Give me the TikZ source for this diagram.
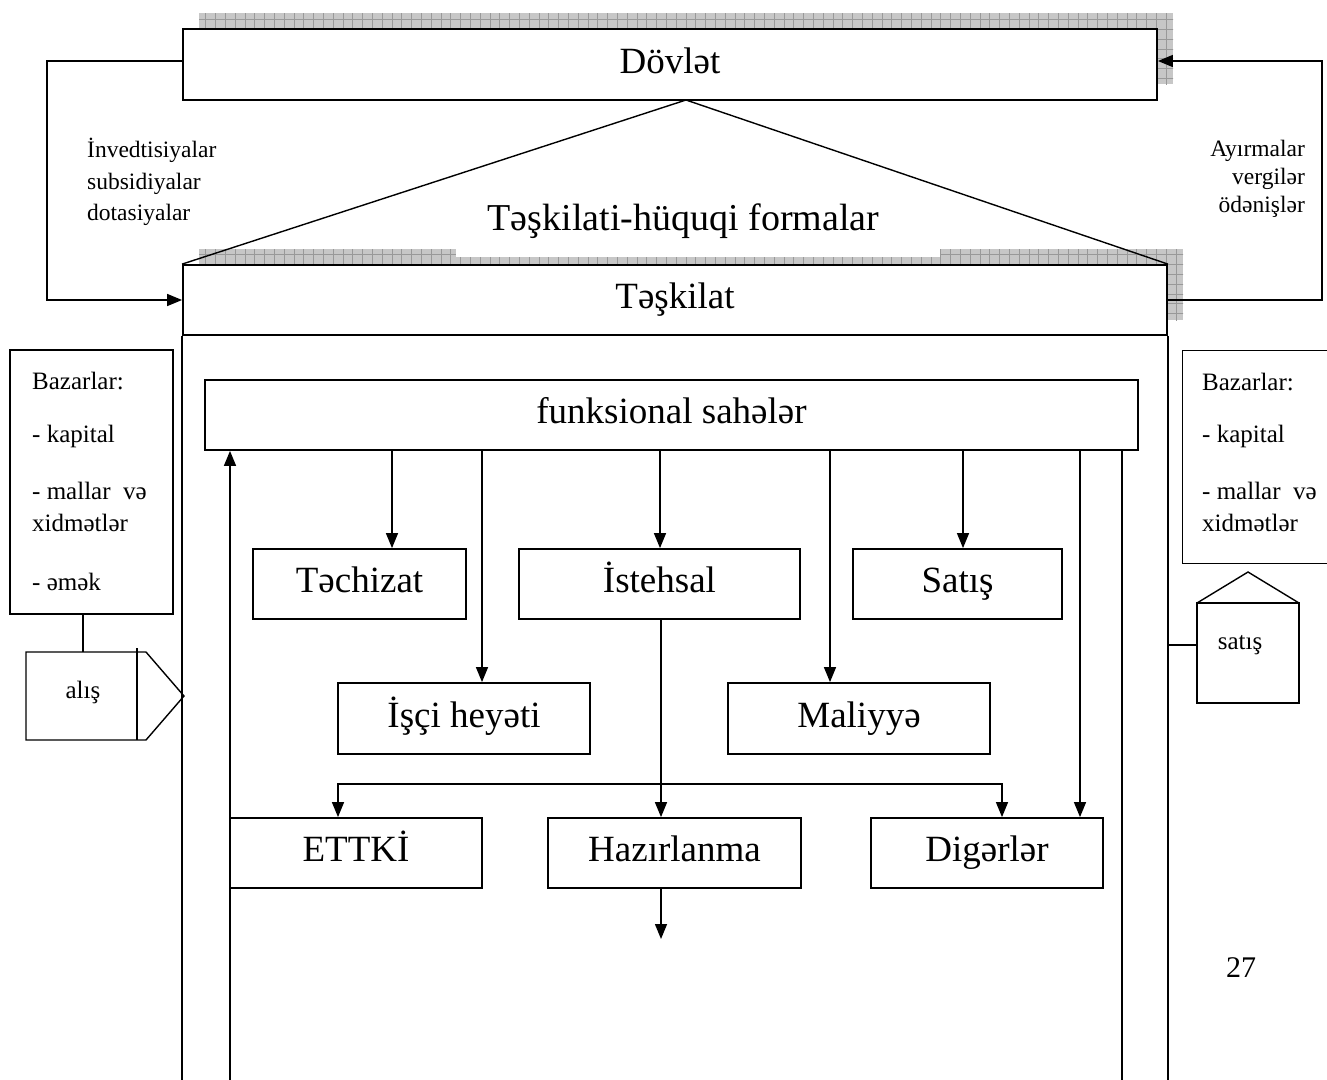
\documentclass[tikz,border=0pt]{standalone}
\usepackage{fontspec}
\setmainfont{Liberation Serif}
\usetikzlibrary{arrows.meta,calc}

\begin{document}
\begin{tikzpicture}[x=1pt,y=-1pt,
  ln/.style={line width=1.4pt},
  box/.style={draw,line width=1.8pt,fill=white,inner sep=0pt,
    font=\fontsize{37}{44}\selectfont,text height=26pt,text depth=9pt},
  arr/.style={ln,-{Triangle[length=15pt,width=12pt]}},
  arrb/.style={ln,{Triangle[length=15pt,width=12pt]}-{Triangle[length=15pt,width=12pt]}},
  small/.style={font=\fontsize{25}{30}\selectfont,inner sep=0pt},
  flow/.style={font=\fontsize{23.5}{28}\selectfont,inner sep=0pt},
  hatch/.style={fill=black!22},
  hatchgrid/.style={draw=black!40,line width=0.7pt}
]
\useasboundingbox (0,0) rectangle (1327,1079);
\clip (0,0) rectangle (1327,1079);

% hatched shadows behind the two main boxes
\begin{scope}
  \clip (199,13) rectangle (1173,84);
  \fill[hatch] (199,13) rectangle (1173,84);
  \draw[hatchgrid,step=9.8pt] (199,13) grid (1180,90);
\end{scope}
\begin{scope}
  \clip (199,249) rectangle (1183,320);
  \fill[hatch] (199,249) rectangle (1183,320);
  \draw[hatchgrid,step=9.8pt] (199,249) grid (1190,330);
\end{scope}
% white band under the legal-forms caption
\fill[white] (456,238) rectangle (940,257);

% main boxes
\node[box,minimum width=974pt,minimum height=71pt] (dov) at (670,64.5) {Dövlət};
\node[box,minimum width=984pt,minimum height=70pt] (tes) at (675,300) {Təşkilat};
\node[font=\fontsize{38}{46}\selectfont,anchor=base,inner sep=0pt] (forms) at (683.5,230) {Təşkilati-hüquqi formalar};

% roof between state and organisation
\coordinate (apex) at (686,100);
\draw[ln] (tes.north west) -- (apex) -- (tes.north east);

% organisation frame, open at the bottom
\draw[line width=1.8pt] (tes.south west) -- ++(0,820);
\draw[line width=1.8pt] (tes.south east) -- ++(0,820);

% flows between state and organisation
\coordinate (dovL) at ([yshift=3.5pt]dov.west);
\coordinate (dovR) at ([yshift=3.5pt]dov.east);
\coordinate (lx) at (47,0);
\coordinate (rx) at (1322,0);
\draw[arr] (dovL) -- (dovL -| lx) -- (lx |- tes.west) -- (tes.west);
\draw[arr] (tes.east) -- (tes.east -| rx) -- (rx |- dovR) -- (dovR);

\node[flow,anchor=base west] (inv1) at (87,157) {İnvedtisiyalar};
\node[flow,anchor=base west] (inv2) at (87,189) {subsidiyalar};
\node[flow,anchor=base west] (inv3) at (87,220) {dotasiyalar};
\node[flow,anchor=base east] (ay1) at (1305,156) {Ayırmalar};
\node[flow,anchor=base east] (ay2) at (1305,184) {vergilər};
\node[flow,anchor=base east] (ay3) at (1305,212) {ödənişlər};

% functional areas
\node[box,minimum width=933pt,minimum height=70pt] (fs) at (671.5,415) {funksional sahələr};
\node[box,minimum width=213pt,minimum height=70pt] (tech) at (359.5,584) {Təchizat};
\node[box,minimum width=281pt,minimum height=70pt] (ist) at (659.5,584) {İstehsal};
\node[box,minimum width=209pt,minimum height=70pt] (sat) at (957.5,584) {Satış};
\node[box,minimum width=252pt,minimum height=71pt] (isci) at (464,718.5) {İşçi heyəti};
\node[box,minimum width=262pt,minimum height=71pt] (mal) at (859,718.5) {Maliyyə};
\node[box,minimum width=252pt,minimum height=70pt] (ettki) at (356,853) {ETTKİ};
\node[box,minimum width=253pt,minimum height=70pt] (haz) at (674.5,853) {Hazırlanma};
\node[box,minimum width=232pt,minimum height=70pt] (dig) at (987,853) {Digərlər};

% branch positions
\coordinate (c392) at (392,0);
\coordinate (c482) at (482,0);
\coordinate (c660) at (660,0);
\coordinate (c830) at (830,0);
\coordinate (c963) at (963,0);
\coordinate (c1080) at (1080,0);
\coordinate (c661) at (661,0);
\draw[arr] (fs.south -| c392) -- (tech.north -| c392);
\draw[arr] (fs.south -| c482) -- (isci.north -| c482);
\draw[arr] (fs.south -| c660) -- (ist.north -| c660);
\draw[arr] (fs.south -| c830) -- (mal.north -| c830);
\draw[arr] (fs.south -| c963) -- (sat.north -| c963);
\draw[arr] (fs.south -| c1080) -- (dig.north -| c1080);
\draw[arr] (ist.south -| c661) -- (haz.north -| c661);

\coordinate (bus1) at (338,784);
\coordinate (bus2) at (1002,784);
\draw[arrb] (bus1 |- ettki.north) -- (bus1) -- (bus2) -- (bus2 |- dig.north);

\coordinate (hend) at (661,939);
\draw[arr] (haz.south -| hend) -- (hend);

\coordinate (fb) at (230,1095);
\draw[arr] (fb) -- (fb |- fs.south);
\coordinate (r1122) at (1122,1095);
\draw[ln] (fs.south -| r1122) -- (r1122);

% purchasing markets
\node[draw,ln,minimum width=163pt,minimum height=264pt,inner sep=0pt] (bazL) at (91.5,482) {};
\node[small,anchor=base west] (bl1) at (32,389) {Bazarlar:};
\node[small,anchor=base west] (bl2) at (32,442) {- kapital};
\node[small,anchor=base west] (bl3) at (32,499) {- mallar\ \ və};
\node[small,anchor=base west] (bl4) at (32,531) {xidmətlər};
\node[small,anchor=base west] (bl5) at (32,590) {- əmək};

\draw[ln] (26,652) -- (146,652) -- (184,696) -- (146,740) -- (26,740) -- cycle;
\draw[ln] (137,648) -- (137,740);
\node[small,anchor=base] (alis) at (83,698) {alış};
\coordinate (alisTop) at (83,652);
\draw[ln] (bazL.south -| alisTop) -- (alisTop);

% sales markets
\node[draw,ln,minimum width=170pt,minimum height=213pt,inner sep=0pt,anchor=north west] (bazR) at (1182,350) {};
\node[small,anchor=base west] (br1) at (1202,390) {Bazarlar:};
\node[small,anchor=base west] (br2) at (1202,442) {- kapital};
\node[small,anchor=base west] (br3) at (1202,499) {- mallar\ \ və};
\node[small,anchor=base west] (br4) at (1202,531) {xidmətlər};

\draw[ln] (1197,603) rectangle (1299,703);
\draw[ln] (1197,603) -- (1248,572) -- (1299,603);
\node[small,anchor=base] (satis) at (1240,649) {satış};
\coordinate (sL) at (1197,645);
\draw[ln] (sL -| tes.east) -- (sL);

% page number
\node[font=\fontsize{30}{36}\selectfont,anchor=base,inner sep=0pt] (pg) at (1241,977) {27};
\end{tikzpicture}
\end{document}
